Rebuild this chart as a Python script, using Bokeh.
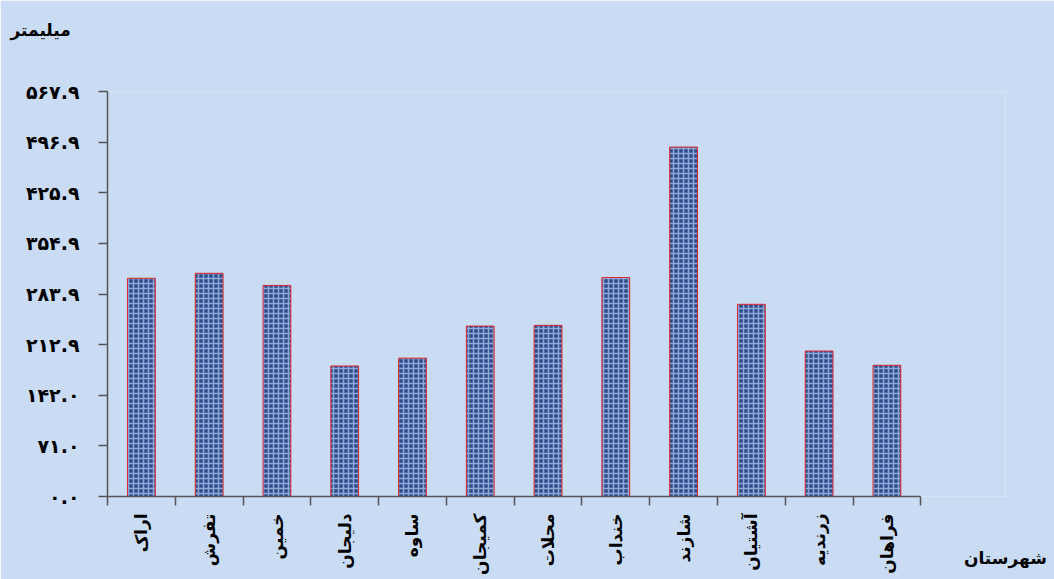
from math import pi
from bokeh.plotting import figure
from bokeh.models import ColumnDataSource, FixedTicker, CustomJSTickFormatter
from bokeh.embed import file_html
from bokeh.resources import INLINE

# ---- data ----
cities = ["اراک", "تفرش", "خمین", "دلیجان", "ساوه", "کمیجان",
          "محلات", "خنداب", "شازند", "آشتیان", "زرندیه", "فراهان"]
rainfall = [306, 313, 296, 183, 194, 239, 240, 307, 490, 269.5, 204, 184]
y_max = 567.9
y_tick_labels = ["۰.۰", "۷۱.۰", "۱۴۲.۰", "۲۱۲.۹", "۲۸۳.۹", "۳۵۴.۹", "۴۲۵.۹", "۴۹۶.۹", "۵۶۷.۹"]
y_title = "میلیمتر"
x_title = "شهرستان"

FONT = "DejaVu Sans"
BG = "#cadcf3"

n = len(cities)
step = y_max / (len(y_tick_labels) - 1)
x_end = n + 1.25  # empty space to the right of the last category (room for the x title)

src = ColumnDataSource(dict(x=[i + 0.5 for i in range(n)], top=rainfall, city=cities))

p = figure(width=1054, height=579, x_range=(0, x_end), y_range=(0, y_max),
           output_backend="svg", toolbar_location=None,
           min_border_left=107, min_border_right=49,
           min_border_top=91, min_border_bottom=83)
p.background_fill_color = BG
p.border_fill_color = BG
p.outline_line_color = None
p.grid.visible = False

p.vbar(x="x", top="top", width=0.41, source=src,
       fill_color="#2f4b8a", line_color="#e0262b", line_width=1,
       hatch_pattern="cross", hatch_color="#8fa9d8", hatch_scale=5, hatch_weight=1.5)

# title (y unit) at top-left; blank lines below it lift it toward the top edge
p.title.text = y_title + "\n \n "
p.title.align = "left"
p.title.vertical_align = "top"
p.title.offset = -97
p.title.standoff = 20
p.title.text_font = FONT
p.title.text_font_style = "bold"
p.title.text_font_size = "17px"
p.title.text_color = "#000000"

# x axis
xa = p.xaxis[0]
xa.bounds = (0, n)
xa.ticker = FixedTicker(ticks=[i + 0.5 for i in range(n)], minor_ticks=list(range(n + 1)))
xa.formatter = CustomJSTickFormatter(args=dict(labels=cities),
                                     code="return labels[Math.floor(tick)] || '';")
xa.major_tick_line_color = None
xa.major_tick_out = 0
xa.major_tick_in = 0
xa.minor_tick_out = 9
xa.minor_tick_in = 0
xa.minor_tick_line_color = "#555555"
xa.axis_line_color = "#555555"
xa.axis_line_width = 1.5
xa.minor_tick_line_width = 1.5
xa.major_label_orientation = pi / 2
xa.major_label_standoff = 8
xa.major_label_text_font = FONT
xa.major_label_text_font_style = "bold"
xa.major_label_text_font_size = "17px"
xa.major_label_text_color = "#000000"
xa.axis_label = x_title
xa.axis_label_align = "end"
xa.axis_label_standoff = -30
xa.axis_label_text_font = FONT
xa.axis_label_text_font_style = "bold"
xa.axis_label_text_font_size = "17px"
xa.axis_label_text_color = "#000000"

# y axis
ya = p.yaxis[0]
ya.ticker = FixedTicker(ticks=[i * step for i in range(len(y_tick_labels))], minor_ticks=[])
ya.formatter = CustomJSTickFormatter(args=dict(labels=y_tick_labels, step=step),
                                     code="return labels[Math.round(tick/step)] || '';")
ya.major_tick_out = 9
ya.major_tick_in = 0
ya.major_tick_line_color = "#555555"
ya.major_tick_line_width = 1.5
ya.axis_line_color = "#555555"
ya.axis_line_width = 1.5
ya.major_label_standoff = 19
ya.major_label_text_font = FONT
ya.major_label_text_font_style = "bold"
ya.major_label_text_font_size = "19px"
ya.major_label_text_color = "#000000"

open("out.html", "w").write(file_html(p, INLINE))
